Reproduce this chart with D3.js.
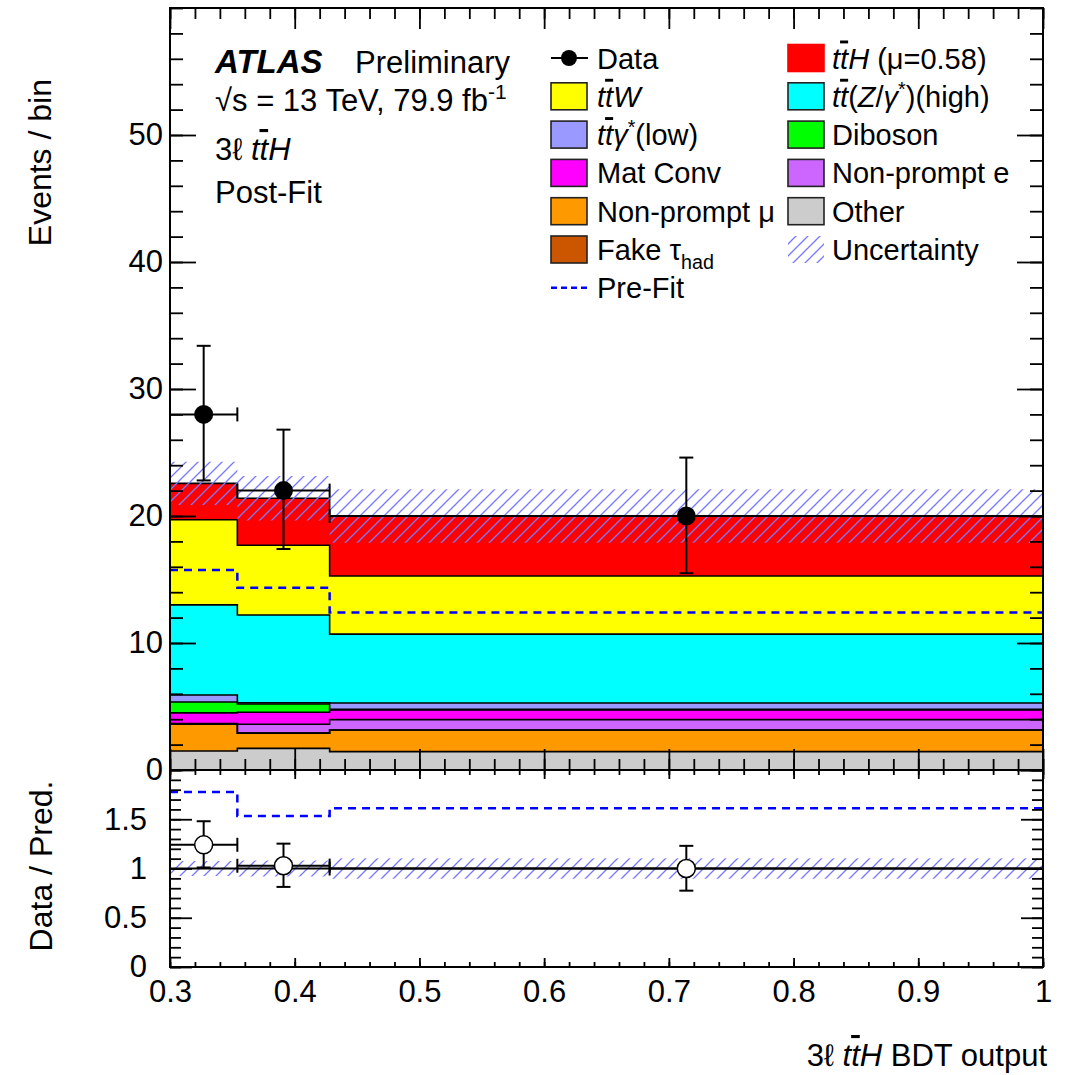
<!DOCTYPE html>
<html>
<head>
<meta charset="utf-8">
<script src="https://cdn.jsdelivr.net/npm/d3@7"></script>
<style>
  body { margin: 0; background: #fff; }
  svg { font-family: "Liberation Sans", Arial, Helvetica, sans-serif; }
</style>
</head>
<body>
<svg id="chart" width="1078" height="1075"></svg>
<script>
// bin edges of the BDT output
const binEdges = [0.3, 0.354, 0.428, 1.0]

// post-fit yields per bin, stack order bottom -> top
const other       = [1.50, 1.70, 1.45]
const nonpromptMu = [2.10, 1.20, 1.70]
const fakeTau     = [0.00, 0.00, 0.00]
const nonpromptE  = [0.05, 0.70, 0.82]
const matConv     = [0.85, 0.95, 0.75]
const diboson     = [0.85, 0.65, 0.05]
const ttGammaLow  = [0.55, 0.10, 0.50]
const ttZHigh     = [7.10, 6.90, 5.43]
const ttW         = [6.70, 5.50, 4.58]
const ttH         = [2.87, 3.70, 4.72]

const uncertainty = [1.70, 1.75, 2.10]
const preFit      = [15.75, 14.35, 12.40]

const dataCounts  = [28, 22, 20]
const dataLow     = [22.8, 17.4, 15.5]
const dataHigh    = [33.4, 26.8, 24.6]

const yTicks      = [0, 10, 20, 30, 40, 50]
const xTicks      = [0.3, 0.4, 0.5, 0.6, 0.7, 0.8, 0.9, 1.0]
const ratioTicks  = [0, 0.5, 1, 1.5]

const stackKeys = ['other', 'nonpromptMu', 'fakeTau', 'nonpromptE', 'matConv',
                   'diboson', 'ttGammaLow', 'ttZHigh', 'ttW', 'ttH']
const colors = {
  other: '#cccccc', nonpromptMu: '#ff9900', fakeTau: '#cc5500', nonpromptE: '#cc66ff',
  matConv: '#ff00ff', diboson: '#00ff00', ttGammaLow: '#9999ff', ttZHigh: '#00ffff',
  ttW: '#ffff00', ttH: '#ff0000'
}
const yields = { other, nonpromptMu, fakeTau, nonpromptE, matConv, diboson, ttGammaLow, ttZHigh, ttW, ttH }

// layout
const padL = 170, padR = 1043, padT = 8, padM = 770, padB = 967

const svg = d3.select('#chart')
const x = d3.scaleLinear().domain([0.3, 1]).range([padL, padR])
const y = d3.scaleLinear().domain([0, 60]).range([padM, padT])
const yr = d3.scaleLinear().domain([0, 2]).range([padB, padM])

const defs = svg.append('defs')
defs.append('pattern')
  .attr('id', 'hatch').attr('patternUnits', 'userSpaceOnUse')
  .attr('width', 12).attr('height', 12)
  .append('path')
  .attr('d', 'M0,12 l12,-12 M-3,3 l6,-6 M9,15 l6,-6')
  .attr('stroke', '#7878ff').attr('stroke-width', 1.3)
defs.append('clipPath').attr('id', 'clipMain')
  .append('rect').attr('x', padL).attr('y', padT).attr('width', padR - padL).attr('height', padM - padT)
defs.append('clipPath').attr('id', 'clipRatio')
  .append('rect').attr('x', padL).attr('y', padM).attr('width', padR - padL).attr('height', padB - padM)

// rows for d3.stack
const rows = dataCounts.map((d, i) => {
  const r = { bin: i }
  stackKeys.forEach(k => { r[k] = yields[k][i] })
  return r
})
const series = d3.stack().keys(stackKeys)(rows)
const totals = rows.map(r => d3.sum(stackKeys, k => r[k]))
const centers = binEdges.slice(0, -1).map((e, i) => (e + binEdges[i + 1]) / 2)

// turn per-bin values into step points
function steps(lo, hi) {
  return lo.flatMap((v, i) => [
    { x: binEdges[i], y0: v, y1: hi[i] },
    { x: binEdges[i + 1], y0: v, y1: hi[i] }
  ])
}

/**------ main panel ------**/
const main = svg.append('g').attr('clip-path', 'url(#clipMain)')

const area = d3.area().x(d => x(d.x)).y0(d => y(d.y0)).y1(d => y(d.y1))
const topLine = d3.line().x(d => x(d.x)).y(d => y(d.y1))

series.forEach(s => {
  main.append('path')
    .attr('d', area(steps(s.map(d => d[0]), s.map(d => d[1]))))
    .attr('fill', colors[s.key])
})
series.forEach(s => {
  main.append('path')
    .attr('d', topLine(steps(s.map(d => d[0]), s.map(d => d[1]))))
    .attr('fill', 'none').attr('stroke', '#000').attr('stroke-width', 1.6)
})

// uncertainty band
main.append('path')
  .attr('d', area(steps(totals.map((t, i) => t - uncertainty[i]), totals.map((t, i) => t + uncertainty[i]))))
  .attr('fill', 'url(#hatch)')

// pre-fit line
main.append('path')
  .attr('d', topLine(steps(preFit, preFit)))
  .attr('fill', 'none').attr('stroke', '#0000ff').attr('stroke-width', 2.5)
  .attr('stroke-dasharray', '8,6')

function drawPoints(g, ys, vals, lo, hi, open) {
  vals.forEach((v, i) => {
    const cx = x(centers[i]), cy = ys(v)
    const xa = x(binEdges[i]), xb = x(binEdges[i + 1])
    const pts = g.append('g').attr('stroke', '#000').attr('stroke-width', 2)
    pts.append('line').attr('x1', xa).attr('x2', xb).attr('y1', cy).attr('y2', cy)
    pts.append('line').attr('x1', xa).attr('x2', xa).attr('y1', cy - 7).attr('y2', cy + 7)
    pts.append('line').attr('x1', xb).attr('x2', xb).attr('y1', cy - 7).attr('y2', cy + 7)
    pts.append('line').attr('x1', cx).attr('x2', cx).attr('y1', ys(lo[i])).attr('y2', ys(hi[i]))
    pts.append('line').attr('x1', cx - 7).attr('x2', cx + 7).attr('y1', ys(lo[i])).attr('y2', ys(lo[i]))
    pts.append('line').attr('x1', cx - 7).attr('x2', cx + 7).attr('y1', ys(hi[i])).attr('y2', ys(hi[i]))
    pts.append('circle').attr('cx', cx).attr('cy', cy).attr('r', open ? 9 : 9.5)
      .attr('fill', open ? '#fff' : '#000').attr('stroke-width', open ? 1.5 : 0)
  })
}
drawPoints(main, y, dataCounts, dataLow, dataHigh, false)

/**------ ratio panel ------**/
const ratio = svg.append('g').attr('clip-path', 'url(#clipRatio)')
const rArea = d3.area().x(d => x(d.x)).y0(d => yr(d.y0)).y1(d => yr(d.y1))
const rLine = d3.line().x(d => x(d.x)).y(d => yr(d.y1))

const relUnc = uncertainty.map((u, i) => u / totals[i])
ratio.append('path')
  .attr('d', rArea(steps(relUnc.map(u => 1 - u), relUnc.map(u => 1 + u))))
  .attr('fill', 'url(#hatch)')
const ones = totals.map(() => 1)
ratio.append('path')
  .attr('d', rLine(steps(ones, ones)))
  .attr('fill', 'none').attr('stroke', '#000').attr('stroke-width', 2.2)
const preRatio = dataCounts.map((d, i) => d / preFit[i])
ratio.append('path')
  .attr('d', rLine(steps(preRatio, preRatio)))
  .attr('fill', 'none').attr('stroke', '#0000ff').attr('stroke-width', 2.5)
  .attr('stroke-dasharray', '8,6')
drawPoints(ratio,
  yr,
  dataCounts.map((d, i) => d / totals[i]),
  dataLow.map((d, i) => d / totals[i]),
  dataHigh.map((d, i) => d / totals[i]),
  true)

/**------ axes ------**/
const tickFont = 31
function styleAxis(g) {
  g.select('.domain').remove()
  g.selectAll('.tick line').attr('stroke', '#000').attr('stroke-width', 1.8)
  g.selectAll('text').attr('font-size', tickFont).attr('fill', '#000')
    .attr('font-family', '"Liberation Sans", Arial, sans-serif')
}
const minorX = d3.range(0, 36).map(i => 0.3 + i * 0.02)
const minorY = d3.range(0, 31).map(i => i * 2)
const minorR = d3.range(0, 21).map(i => i * 0.1)

// main y
svg.append('g').attr('transform', `translate(${padL},0)`)
  .call(d3.axisLeft(y).tickValues(yTicks).tickSize(-26).tickPadding(7).tickFormat(d3.format('d'))).call(styleAxis)
svg.append('g').attr('transform', `translate(${padL},0)`)
  .call(d3.axisLeft(y).tickValues(minorY).tickSize(-13).tickFormat('')).call(styleAxis)
svg.append('g').attr('transform', `translate(${padR},0)`)
  .call(d3.axisRight(y).tickValues(yTicks).tickSize(-26).tickFormat('')).call(styleAxis)
svg.append('g').attr('transform', `translate(${padR},0)`)
  .call(d3.axisRight(y).tickValues(minorY).tickSize(-13).tickFormat('')).call(styleAxis)
// main x (top and bottom, no labels)
svg.append('g').attr('transform', `translate(0,${padM})`)
  .call(d3.axisBottom(x).tickValues(xTicks).tickSize(-21).tickFormat('')).call(styleAxis)
svg.append('g').attr('transform', `translate(0,${padM})`)
  .call(d3.axisBottom(x).tickValues(minorX).tickSize(-11).tickFormat('')).call(styleAxis)
svg.append('g').attr('transform', `translate(0,${padT})`)
  .call(d3.axisTop(x).tickValues(xTicks).tickSize(-21).tickFormat('')).call(styleAxis)
svg.append('g').attr('transform', `translate(0,${padT})`)
  .call(d3.axisTop(x).tickValues(minorX).tickSize(-11).tickFormat('')).call(styleAxis)

// ratio y
svg.append('g').attr('transform', `translate(${padL},0)`)
  .call(d3.axisLeft(yr).tickValues(ratioTicks).tickSize(-22).tickPadding(23).tickFormat(d3.format('~g'))).call(styleAxis)
svg.append('g').attr('transform', `translate(${padL},0)`)
  .call(d3.axisLeft(yr).tickValues(minorR).tickSize(-11).tickFormat('')).call(styleAxis)
svg.append('g').attr('transform', `translate(${padR},0)`)
  .call(d3.axisRight(yr).tickValues(ratioTicks.concat([2])).tickSize(-22).tickFormat('')).call(styleAxis)
svg.append('g').attr('transform', `translate(${padR},0)`)
  .call(d3.axisRight(yr).tickValues(minorR).tickSize(-11).tickFormat('')).call(styleAxis)
// ratio x
svg.append('g').attr('transform', `translate(0,${padB})`)
  .call(d3.axisBottom(x).tickValues(xTicks).tickSize(-9).tickPadding(13)
    .tickFormat(d => d === 1 ? '1' : d.toFixed(1))).call(styleAxis)
svg.append('g').attr('transform', `translate(0,${padB})`)
  .call(d3.axisBottom(x).tickValues(minorX).tickSize(-5).tickFormat('')).call(styleAxis)
svg.append('g').attr('transform', `translate(0,${padM})`)
  .call(d3.axisTop(x).tickValues(xTicks).tickSize(-9).tickFormat('')).call(styleAxis)
svg.append('g').attr('transform', `translate(0,${padM})`)
  .call(d3.axisTop(x).tickValues(minorX).tickSize(-5).tickFormat('')).call(styleAxis)

// frames
svg.append('rect').attr('x', padL).attr('y', padT).attr('width', padR - padL).attr('height', padM - padT)
  .attr('fill', 'none').attr('stroke', '#000').attr('stroke-width', 2)
svg.append('rect').attr('x', padL).attr('y', padM).attr('width', padR - padL).attr('height', padB - padM)
  .attr('fill', 'none').attr('stroke', '#000').attr('stroke-width', 2)

/**------ texts ------**/
// segments: [text, flags] with i=italic b=bold o=overline u=superscript s=subscript
function rich(sel, segs, size) {
  let shift = 0
  segs.forEach(([t, f = '']) => {
    const ts = sel.append('tspan').text(t)
    let target = 0
    if (f.includes('i')) ts.attr('font-style', 'italic')
    if (f.includes('b')) ts.attr('font-weight', 'bold')
    if (f.includes('o')) ts.style('text-decoration', 'overline')
    if (f.includes('u')) { target = -size * 0.38; ts.attr('font-size', size * 0.68) }
    if (f.includes('s')) { target = size * 0.3; ts.attr('font-size', size * 0.68) }
    if (target !== shift) ts.attr('dy', target - shift)
    shift = target
  })
  return sel
}
function label(px, py, segs, size, anchor = 'start') {
  const t = svg.append('text').attr('x', px).attr('y', py)
    .attr('font-size', size).attr('text-anchor', anchor).attr('fill', '#000')
  return rich(t, segs, size)
}

label(215, 73, [['ATLAS', 'bi']], 33)
label(355, 73, [['Preliminary']], 31)
label(215, 111, [['√s = 13 TeV, 79.9 fb'], ['-1', 'u']], 31)
label(215, 160, [['3ℓ '], ['t', 'i'], ['t', 'io'], ['H', 'i']], 31)
label(215, 203, [['Post-Fit']], 31)

label(1047, 1066, [['3ℓ '], ['t', 'i'], ['t', 'io'], ['H', 'i'], [' BDT output']], 31, 'end')

svg.append('text').attr('transform', 'translate(51,79) rotate(-90)')
  .attr('text-anchor', 'end').attr('font-size', 32).text('Events / bin')
svg.append('text').attr('transform', 'translate(52,866) rotate(-90)')
  .attr('text-anchor', 'middle').attr('font-size', 32).text('Data / Pred.')

/**------ legend ------**/
const legSize = 29
const rowY = i => 58 + 38.3 * i
const leftEntries = [
  { kind: 'data', segs: [['Data']] },
  { kind: 'box', key: 'ttW', segs: [['t', 'i'], ['t', 'io'], ['W', 'i']] },
  { kind: 'box', key: 'ttGammaLow', segs: [['t', 'i'], ['t', 'io'], ['γ', 'i'], ['*', 'u'], ['(low)']] },
  { kind: 'box', key: 'matConv', segs: [['Mat Conv']] },
  { kind: 'box', key: 'nonpromptMu', segs: [['Non-prompt μ']] },
  { kind: 'box', key: 'fakeTau', segs: [['Fake τ'], ['had', 's']] },
  { kind: 'dash', segs: [['Pre-Fit']] }
]
const rightEntries = [
  { kind: 'box', key: 'ttH', segs: [['t', 'i'], ['t', 'io'], ['H', 'i'], [' (μ=0.58)']] },
  { kind: 'box', key: 'ttZHigh', segs: [['t', 'i'], ['t', 'io'], ['('], ['Z', 'i'], ['/'], ['γ', 'i'], ['*', 'u'], [')(high)']] },
  { kind: 'box', key: 'diboson', segs: [['Diboson']] },
  { kind: 'box', key: 'nonpromptE', segs: [['Non-prompt e']] },
  { kind: 'box', key: 'other', segs: [['Other']] },
  { kind: 'hatch', segs: [['Uncertainty']] }
]
function legendColumn(entries, bx, tx) {
  entries.forEach((e, i) => {
    const cy = rowY(i)
    if (e.kind === 'box') {
      svg.append('rect').attr('x', bx).attr('y', cy - 13.5).attr('width', 36).attr('height', 27)
        .attr('fill', colors[e.key]).attr('stroke', e.key === 'ttH' ? '#ff0000' : '#222').attr('stroke-width', 1.6)
    } else if (e.kind === 'hatch') {
      svg.append('rect').attr('x', bx).attr('y', cy - 13.5).attr('width', 36).attr('height', 27)
        .attr('fill', 'url(#hatch)')
    } else if (e.kind === 'data') {
      svg.append('line').attr('x1', bx).attr('x2', bx + 37).attr('y1', cy).attr('y2', cy)
        .attr('stroke', '#000').attr('stroke-width', 2)
      svg.append('circle').attr('cx', bx + 18).attr('cy', cy).attr('r', 8).attr('fill', '#000')
    } else if (e.kind === 'dash') {
      svg.append('line').attr('x1', bx).attr('x2', bx + 37).attr('y1', cy).attr('y2', cy)
        .attr('stroke', '#0000ff').attr('stroke-width', 2.5).attr('stroke-dasharray', '6,4')
    }
    label(tx, cy + 10.5, e.segs, legSize)
  })
}
legendColumn(leftEntries, 551, 597)
legendColumn(rightEntries, 788, 832)
</script>
</body>
</html>
